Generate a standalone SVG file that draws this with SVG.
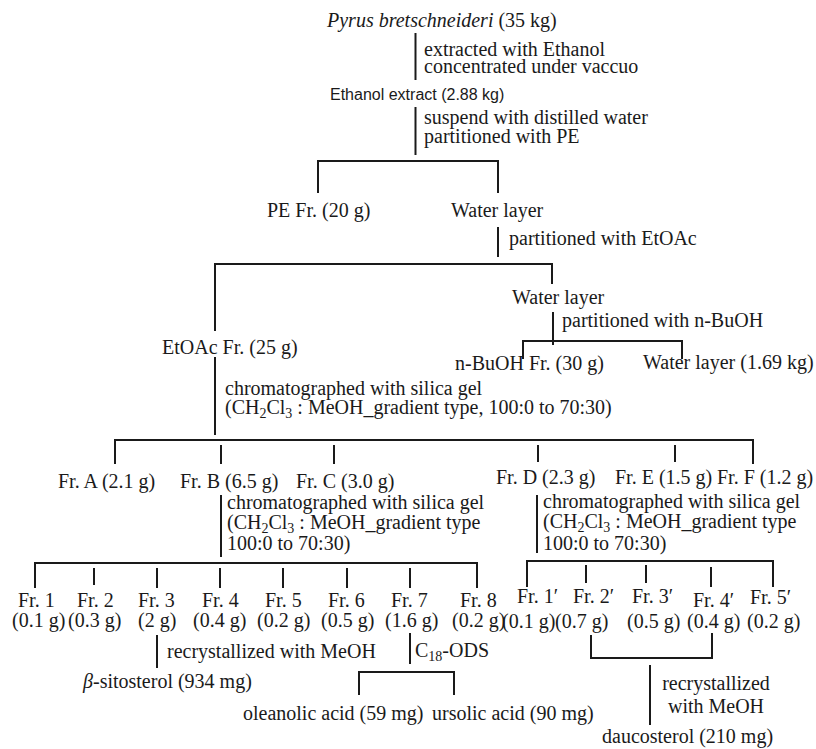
<svg xmlns="http://www.w3.org/2000/svg" width="816" height="749" viewBox="0 0 816 749">
<style>
.t{font-family:"Liberation Serif","Times New Roman",serif;font-size:20px;fill:#1a1a1a}
.s{font-family:"Liberation Sans",Arial,sans-serif;font-size:16px;fill:#1a1a1a}
.i{font-style:italic}
.sub{font-size:14px}
.l{stroke:#1a1a1a;stroke-width:2;fill:none}
</style>
<rect width="816" height="749" fill="#fff"/>
<g id="connectors" class="l">
<path d="M415.5 33V80"/>
<path d="M415.5 107V155"/>
<path d="M318 193V161H498V193"/>
<path d="M498 227V257"/>
<path d="M215 331V264H552V284"/>
<path d="M553 312V345"/>
<path d="M523 359V341H682V359"/>
<path d="M215 357V435"/>
<path d="M115 464V440H753V464"/>
<path d="M221 445V464M334 445V464M538 445V462M675 445V462"/>
<path d="M221 495V557"/>
<path d="M537 495V553"/>
<path d="M35 588V563H477V588"/>
<path d="M94 568V585M157 568V588M220 568V588M283 568V588M347 568V588M410 568V588"/>
<path d="M527 587V561H773V587"/>
<path d="M586 565V583M646 565V583M711 567V587"/>
<path d="M157 635V668"/>
<path d="M410 633V664"/>
<path d="M359 695V672H454V695"/>
<path d="M591 635V658H712V633"/>
<path d="M650 665V725"/>
</g>
<g id="n-pyrus"><text class="t" x="327" y="27"><tspan class="i">Pyrus bretschneideri</tspan> (35 kg)</text></g>
<g id="s-extract"><text class="t" x="424" y="56">extracted with Ethanol</text><text class="t" x="424" y="73">concentrated under vaccuo</text></g>
<g id="n-ethanol"><text class="s" x="330" y="100">Ethanol extract (2.88 kg)</text></g>
<g id="s-suspend"><text class="t" x="424" y="124">suspend with distilled water</text><text class="t" x="424" y="143">partitioned with PE</text></g>
<g id="n-pe"><text class="t" x="267" y="217">PE Fr. (20 g)</text></g>
<g id="n-water1"><text class="t" x="451" y="217">Water layer</text></g>
<g id="s-etoac"><text class="t" x="509" y="245">partitioned with EtOAc</text></g>
<g id="n-water2"><text class="t" x="512" y="304">Water layer</text></g>
<g id="s-buoh"><text class="t" x="562" y="327">partitioned with n-BuOH</text></g>
<g id="n-etoac"><text class="t" x="162" y="354">EtOAc Fr. (25 g)</text></g>
<g id="n-buoh"><text class="t" x="455" y="370">n-BuOH Fr. (30 g)</text></g>
<g id="n-water3"><text class="t" x="643" y="369">Water layer (1.69 kg)</text></g>
<g id="s-chrom1"><text class="t" x="225" y="395">chromatographed with silica gel</text><text class="t" x="225" y="414">(CH<tspan class="sub" dy="4">2</tspan><tspan dy="-4">Cl</tspan><tspan class="sub" dy="4">3</tspan><tspan dy="-4"> : MeOH_gradient type, 100:0 to 70:30)</tspan></text></g>
<g id="n-frA"><text class="t" x="58" y="488">Fr. A (2.1 g)</text></g>
<g id="n-frB"><text class="t" x="180" y="488">Fr. B (6.5 g)</text></g>
<g id="n-frC"><text class="t" x="296" y="488">Fr. C (3.0 g)</text></g>
<g id="n-frD"><text class="t" x="496" y="484">Fr. D (2.3 g)</text></g>
<g id="n-frE"><text class="t" x="615" y="484">Fr. E (1.5 g)</text></g>
<g id="n-frF"><text class="t" x="717" y="484">Fr. F (1.2 g)</text></g>
<g id="s-chrom2"><text class="t" x="227" y="509">chromatographed with silica gel</text><text class="t" x="227" y="529">(CH<tspan class="sub" dy="4">2</tspan><tspan dy="-4">Cl</tspan><tspan class="sub" dy="4">3</tspan><tspan dy="-4"> : MeOH_gradient type</tspan></text><text class="t" x="227" y="550">100:0 to 70:30)</text></g>
<g id="s-chrom3"><text class="t" x="543" y="508">chromatographed with silica gel</text><text class="t" x="543" y="528">(CH<tspan class="sub" dy="4">2</tspan><tspan dy="-4">Cl</tspan><tspan class="sub" dy="4">3</tspan><tspan dy="-4"> : MeOH_gradient type</tspan></text><text class="t" x="543" y="550">100:0 to 70:30)</text></g>
<g id="n-fr1"><text class="t" x="18" y="607">Fr. 1</text><text class="t" x="12" y="627">(0.1 g)</text></g>
<g id="n-fr2"><text class="t" x="77" y="607">Fr. 2</text><text class="t" x="68" y="627">(0.3 g)</text></g>
<g id="n-fr3"><text class="t" x="138" y="607">Fr. 3</text><text class="t" x="138" y="627">(2 g)</text></g>
<g id="n-fr4"><text class="t" x="202" y="607">Fr. 4</text><text class="t" x="193" y="627">(0.4 g)</text></g>
<g id="n-fr5"><text class="t" x="265" y="607">Fr. 5</text><text class="t" x="257" y="627">(0.2 g)</text></g>
<g id="n-fr6"><text class="t" x="328" y="607">Fr. 6</text><text class="t" x="321" y="627">(0.5 g)</text></g>
<g id="n-fr7"><text class="t" x="391" y="607">Fr. 7</text><text class="t" x="385" y="627">(1.6 g)</text></g>
<g id="n-fr8"><text class="t" x="460" y="607">Fr. 8</text><text class="t" x="452" y="627">(0.2 g)</text></g>
<g id="n-fr1p"><text class="t" x="517" y="603">Fr. 1′</text><text class="t" x="502" y="628">(0.1 g)</text></g>
<g id="n-fr2p"><text class="t" x="573" y="603">Fr. 2′</text><text class="t" x="555" y="628">(0.7 g)</text></g>
<g id="n-fr3p"><text class="t" x="632" y="603">Fr. 3′</text><text class="t" x="627" y="628">(0.5 g)</text></g>
<g id="n-fr4p"><text class="t" x="693" y="607">Fr. 4′</text><text class="t" x="687" y="628">(0.4 g)</text></g>
<g id="n-fr5p"><text class="t" x="750" y="604">Fr. 5′</text><text class="t" x="747" y="628">(0.2 g)</text></g>
<g id="s-recryst1"><text class="t" x="167" y="658">recrystallized with MeOH</text></g>
<g id="s-ods"><text class="t" x="415" y="657">C<tspan class="sub" dy="4">18</tspan><tspan dy="-4">-ODS</tspan></text></g>
<g id="n-sitosterol"><text class="t" x="83" y="688"><tspan class="i">β</tspan>-sitosterol (934 mg)</text></g>
<g id="n-oleanolic"><text class="t" x="243" y="720">oleanolic acid (59 mg)</text></g>
<g id="n-ursolic"><text class="t" x="432" y="720">ursolic acid (90 mg)</text></g>
<g id="s-recryst2"><text class="t" x="716" y="690" text-anchor="middle">recrystallized</text><text class="t" x="716" y="713" text-anchor="middle">with MeOH</text></g>
<g id="n-daucosterol"><text class="t" x="602" y="743">daucosterol (210 mg)</text></g>
</svg>
